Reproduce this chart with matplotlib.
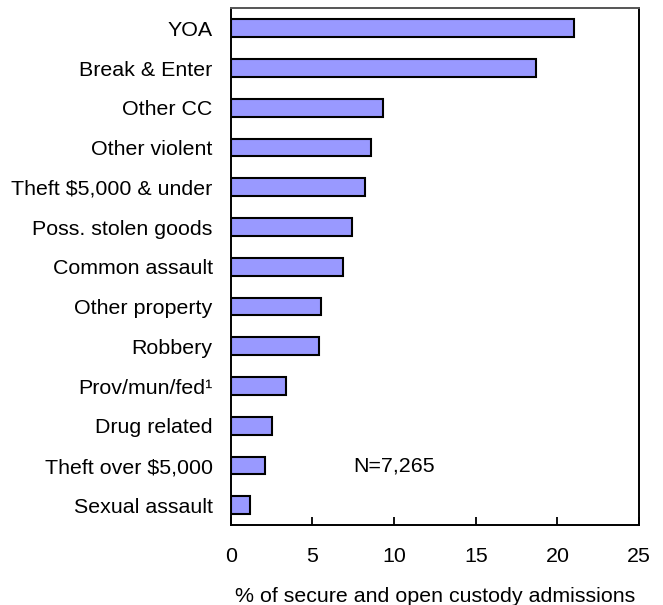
import matplotlib
matplotlib.use("Agg")
import matplotlib.pyplot as plt

# --- Andmed ---
categories = ["YOA", "Break & Enter", "Other CC", "Other violent", "Theft $5,000 & under",
              "Poss. stolen goods", "Common assault", "Other property", "Robbery",
              "Prov/mun/fed¹", "Drug related", "Theft over $5,000", "Sexual assault"]
values = [21.0, 18.7, 9.3, 8.6, 8.2, 7.4, 6.9, 5.5, 5.4, 3.4, 2.5, 2.1, 1.2]
x_ticks = [0, 5, 10, 15, 20, 25]
note = "N=7,265"
xlabel = "% of secure and open custody admissions"

plt.rcParams["font.family"] = ["Liberation Sans", "DejaVu Sans"]
FS = 15.4

fig = plt.figure(figsize=(6.63, 6.05), dpi=100)
ax = fig.add_axes([0.348, 0.132, 0.616, 0.854])

pos = list(range(len(categories)))
ax.barh(pos, values, height=0.445, color="#9999FF", edgecolor="black", linewidth=1.5)

ax.set_ylim(len(categories) - 0.5, -0.5)
ax.set_xlim(0, 25)
ax.set_yticks(pos)
ax.set_yticklabels(categories, fontsize=FS)
ax.set_xticks(x_ticks)
ax.tick_params(axis="y", length=0, pad=13)
ax.tick_params(axis="x", direction="in", length=6, width=1.3, labelsize=FS, pad=16)
ax.set_xlabel(xlabel, fontsize=FS, labelpad=15)

for s in ax.spines.values():
    s.set_linewidth(1.4)
    s.set_color("black")
ax.spines["top"].set_color("#555555")

ax.text(7.5, 11, note, fontsize=FS, va="center", ha="left")

fig.savefig("out.png", dpi=100)
